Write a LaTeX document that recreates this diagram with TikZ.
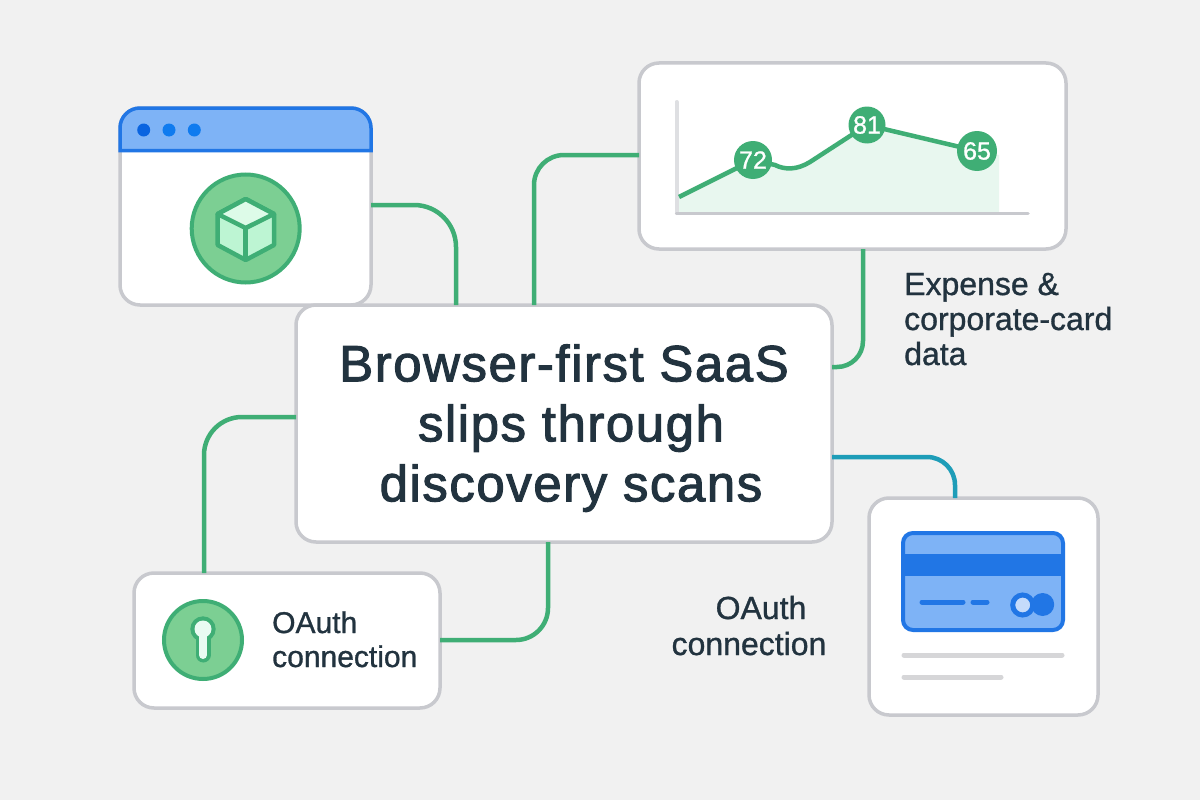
\documentclass[tikz,border=0pt]{standalone}
\usepackage{fontspec}
\setmainfont{Liberation Sans}
\definecolor{bgc}{HTML}{F1F1F1}
\definecolor{edge}{HTML}{C8C9CE}
\definecolor{grn}{HTML}{3FAE75}
\definecolor{lgrn}{HTML}{7CCF93}
\definecolor{teal}{HTML}{1E9DB8}
\definecolor{ink}{HTML}{22333F}
\definecolor{blu}{HTML}{2176E5}
\definecolor{lblu}{HTML}{7EB3F6}
\definecolor{areac}{HTML}{E8F7EF}
\definecolor{dotA}{HTML}{0A64E0}
\definecolor{dotB}{HTML}{0F7BEF}
\definecolor{cubeside}{HTML}{BDF5D3}
\definecolor{cubetop}{HTML}{DDFBE8}
\definecolor{chip}{HTML}{C5DBFB}
\definecolor{barc}{HTML}{D6D6D8}
\definecolor{keyc}{HTML}{E9FBF2}
\newfontfamily\titlefont[LetterSpace=3,FakeBold=2]{Liberation Sans}
\newfontfamily\labfont[FakeBold=1]{Liberation Sans}
\tikzset{
  x=1pt,y=-1pt,
  card/.style={draw=edge,fill=white,line width=3.5pt,rounded corners=20pt,inner sep=0pt,outer sep=0pt},
  conn/.style={draw=grn,line width=4.5pt},
  lab/.style={text=ink,align=left,inner sep=0pt,anchor=base west},
  badge/.style={circle,fill=grn,text=white,inner sep=0pt,outer sep=0pt,font=\labfont\fontsize{25}{25}\selectfont},
  ico/.style={circle,draw=grn,fill=lgrn,line width=4pt,inner sep=0pt,outer sep=0pt},
  dotn/.style={circle,inner sep=0pt,outer sep=0pt,minimum size=13pt},
  graybar/.style={line width=5pt,line cap=round,draw=barc},
}
\begin{document}
\begin{tikzpicture}
\useasboundingbox (0,0) rectangle (1200,800);
\fill[bgc] (0,0) rectangle (1200,800);
% cards
\node[card,minimum width=251pt,minimum height=197pt] (browser) at (245.5,206.5) {};
\node[card,minimum width=427pt,minimum height=186pt] (chart) at (852.5,156) {};
\node[card,minimum width=229pt,minimum height=217pt] (paycard) at (983.5,606.5) {};
\node[card,minimum width=306pt,minimum height=135pt] (oauth) at (287,640.5) {};
\node[card,minimum width=536pt,minimum height=237pt,text=ink,
      font=\titlefont\fontsize{51}{60}\selectfont] (main) at (564,423.5)
  {\raisebox{-12pt}[0pt][0pt]{\begin{tabular}{@{}c@{}}Browser-first SaaS\\\hspace*{14pt}slips through\\\hspace*{14pt}discovery scans\end{tabular}}};
% connectors
\draw[conn,rounded corners=42pt] ([yshift=1.5pt]browser.east) -| ([xshift=-108pt]main.north);
\draw[conn,rounded corners=30pt] ([yshift=1pt]chart.west) -| ([xshift=-30pt]main.north);
\draw[conn,rounded corners=26pt] ([xshift=10.5pt]chart.south) |- ([yshift=56.5pt]main.east);
\draw[conn,draw=teal,rounded corners=28pt] ([yshift=-33.5pt]main.east) -| ([xshift=-28.5pt]paycard.north);
\draw[conn,rounded corners=38pt] ([yshift=6.5pt]main.west) -| ([xshift=-83pt]oauth.north);
\draw[conn,rounded corners=32pt] ([xshift=-16pt]main.south) |- ([yshift=0.5pt]oauth.east);
% browser header
\draw[draw=blu,fill=lblu,line width=3.5pt] (120,150.5) [rounded corners=20pt] -- (120,108) -- (371,108) [sharp corners] -- (371,150.5) -- cycle;
\node[dotn,fill=dotA] (d1) at (143.7,130) {};
\node[dotn,fill=dotB] (d2) at (169,130) {};
\node[dotn,fill=dotB] (d3) at (194.3,130) {};
% cube icon
\node[ico,minimum size=108pt] (cubeicon) at (245.7,228.5) {};
\begin{scope}[draw=grn,line width=4.5pt,line join=round]
\filldraw[fill=cubeside] (245.7,199) -- (274,214) -- (274,245) -- (245.7,260) -- (217.7,245) -- (217.7,214) -- cycle;
\filldraw[fill=cubetop] (245.7,199) -- (274,214) -- (245.7,228) -- (217.7,214) -- cycle;
\draw (245.7,228) -- (245.7,260);
\end{scope}
% chart
\draw[draw=edge!60!white,line width=4pt,line cap=round] (676.5,102) -- (676.5,213);
\fill[areac] (679,197) -- (753,160) -- (775,165) .. controls (785,170) and (797,170) .. (810,162) -- (867,125) -- (999,155) -- (999,212) -- (679,212) -- cycle;
\draw[draw=edge,line width=3.5pt,line cap=round] (676.5,213.5) -- (1028,213.5);
\draw[conn] (679,197) -- (753,160) -- (775,165) .. controls (785,170) and (797,170) .. (810,162) -- (867,125) -- (977,151);
\node[badge,minimum size=38pt] (v72) at (753,160) {72};
\node[badge,minimum size=37pt] (v81) at (867,125) {81};
\node[badge,minimum size=40pt] (v65) at (977,151) {65};
% payment card
\draw[draw=blu,fill=lblu,line width=4pt,rounded corners=10pt] (903,533) rectangle (1063,630);
\fill[blu] (903,554) rectangle (1063,576);
\draw[line width=5pt,line cap=round,draw=blu] (922,602) -- (963,602);
\draw[line width=5pt,line cap=round,draw=blu] (973,602) -- (987,602);
\node[circle,fill=blu,inner sep=0pt,minimum size=23pt] (c2) at (1042.7,604.5) {};
\node[circle,draw=blu,line width=5pt,fill=chip,inner sep=0pt,outer sep=0pt,minimum size=20pt] (c1) at (1022.7,605) {};
\draw[graybar] (904,655) -- (1062,655);
\draw[graybar] (904,677) -- (1001,677);
% keyhole icon
\node[ico,minimum size=78pt] (keyicon) at (203,640) {};
\draw[draw=grn,line width=15pt,line cap=round] (203,629) -- (203,655);
\fill[grn] (203,629) circle (12.7);
\draw[draw=keyc,line width=8pt,line cap=round] (203,629) -- (203,655);
\fill[keyc] (203,629) circle (8.5);
% labels
\node[lab,font=\labfont\fontsize{30}{34}\selectfont] (lab1) at (272,667) {OAuth\\connection};
\node[lab,anchor=base,align=center,font=\labfont\fontsize{32}{36}\selectfont] (lab2) at (749,655) {\hspace*{24pt}OAuth\\connection};
\node[lab,font=\labfont\fontsize{32}{35}\selectfont] (lab3) at (904,365) {Expense \&\\corporate-card\\data};
\end{tikzpicture}
\end{document}
